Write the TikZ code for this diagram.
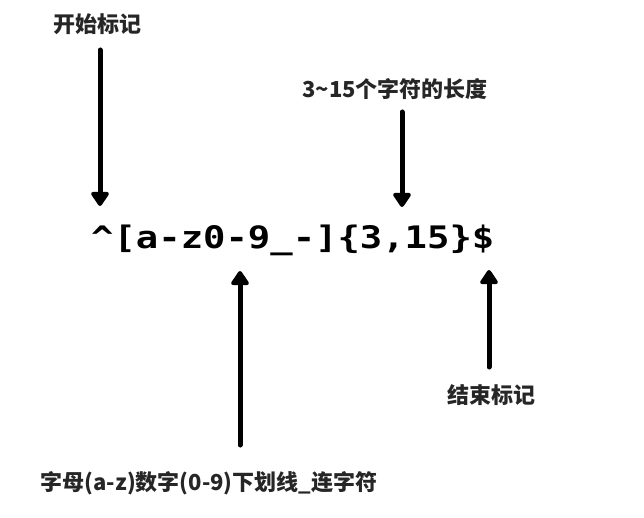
\documentclass[tikz,border=0pt]{standalone}
\usepackage{fontspec}
\newfontfamily\cjk{Noto Sans CJK SC}
\newfontfamily\regexfont{DejaVu Sans Mono}
\usetikzlibrary{arrows.meta}
\begin{document}
\begin{tikzpicture}[x=1pt,y=-1pt,
  lbl/.style={font=\cjk\bfseries\fontsize{22pt}{26pt}\selectfont, inner sep=0pt, text=black!85},
  arr/.style={line width=5pt, line cap=round, -{Triangle[width=20pt,length=16pt,round]}}]
\useasboundingbox (0,0) rectangle (644,518);
\node[lbl] (start) at (97,24) {开始标记};
\node[lbl] (len) at (395,89) {3\textasciitilde15个字符的长度};
\node[font=\regexfont\bfseries\fontsize{31pt}{34pt}\selectfont, inner sep=0pt, anchor=base west] (rx) at (91,248) {\scalebox{1.2}[1]{\^{}[a-z0-9\_-]\{3,15\}\$}};
\node[lbl] (end) at (491,395) {结束标记};
\node[lbl] (chars) at (209,483) {字母(a-z)数字(0-9)下划线\_连字符};
\coordinate (a1s) at (100,50);  \coordinate (a1e) at (100,206);
\coordinate (a2s) at (402,112); \coordinate (a2e) at (402,207);
\coordinate (a3s) at (240,445); \coordinate (a3e) at (240,271);
\coordinate (a4s) at (489,367); \coordinate (a4e) at (489,270);
\draw[arr] (a1s) -- (a1e);
\draw[arr] (a2s) -- (a2e);
\draw[arr] (a3s) -- (a3e);
\draw[arr] (a4s) -- (a4e);
\end{tikzpicture}
\end{document}
